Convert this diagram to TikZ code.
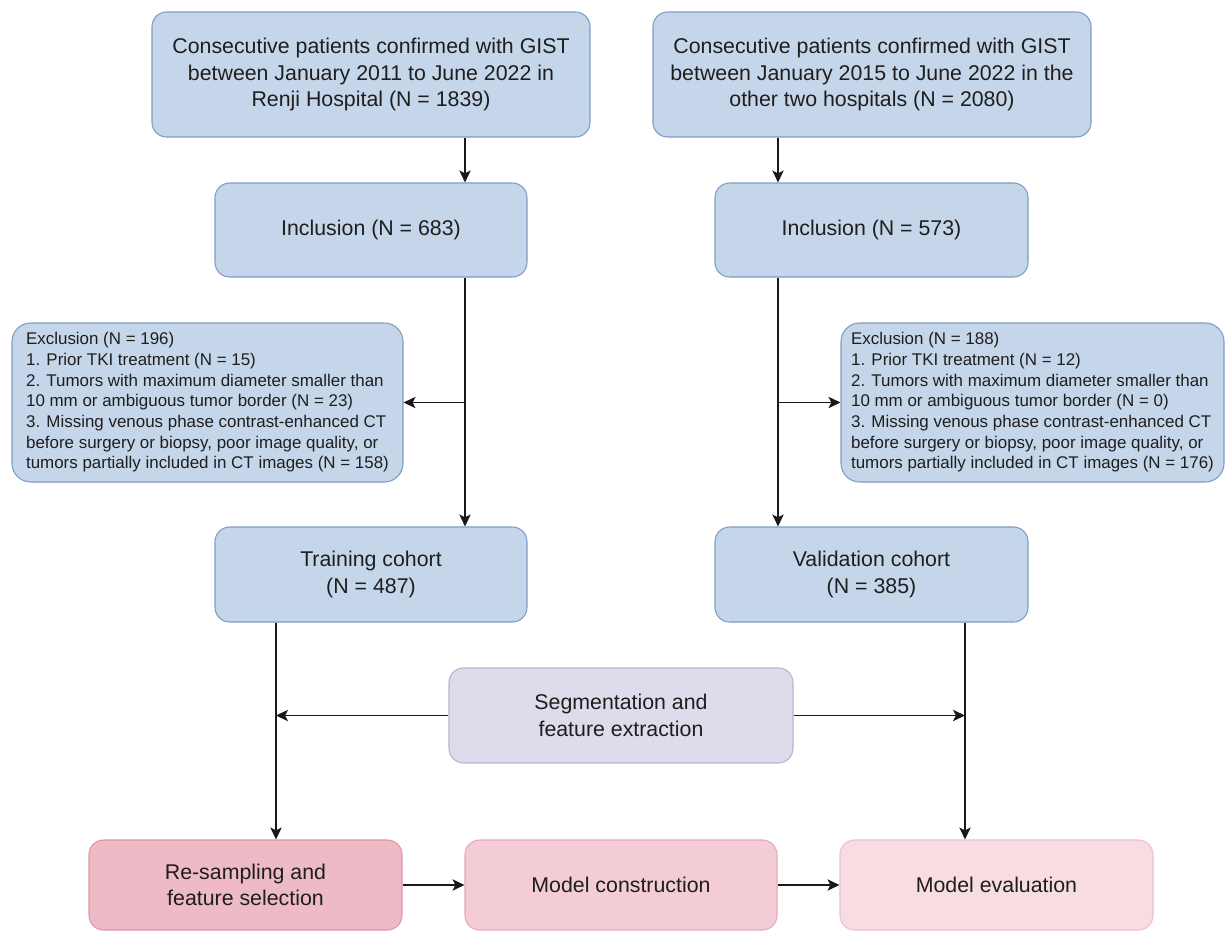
\documentclass[tikz,border=0pt]{standalone}
\usepackage{fontspec}
\setmainfont{Liberation Sans}
\usetikzlibrary{arrows.meta}
\definecolor{bluefill}{HTML}{C6D6EA}
\definecolor{blueline}{HTML}{7E9CC4}
\definecolor{segfill}{HTML}{DEDBEA}
\definecolor{segline}{HTML}{B8B4CF}
\definecolor{resfill}{HTML}{EDBAC6}
\definecolor{resline}{HTML}{DC98AA}
\definecolor{modfill}{HTML}{F3CCD5}
\definecolor{modline}{HTML}{E3AAB8}
\definecolor{evfill}{HTML}{F7DDE2}
\definecolor{evline}{HTML}{EBC0CA}
\definecolor{txt}{HTML}{1E1E1E}
\begin{document}
\begin{tikzpicture}[x=0.75pt,y=-0.75pt,
  box/.style={draw=blueline, fill=bluefill, line width=0.8pt, rounded corners=11pt,
    align=center, inner sep=0pt, text=txt, font=\fontsize{16}{20}\selectfont},
  exbox/.style={box, rounded corners=14pt, align=left, font=\fontsize{12.7}{15.5}\selectfont},
  arr/.style={draw=black!90, line width=1.1pt, -{Stealth[length=9pt,width=8.5pt,inset=2.2pt]}}
]
\useasboundingbox (0,0) rectangle (1225,932);

% top row
\node[box, minimum width=328.5pt, minimum height=93.75pt] (box1) at (371,74.5)
  {Consecutive patients confirmed with GIST\\between January 2011 to June 2022 in\\Renji Hospital (N = 1839)};
\node[box, minimum width=328.5pt, minimum height=93.75pt] (box2) at (872,74.5)
  {Consecutive patients confirmed with GIST\\between January 2015 to June 2022 in the\\other two hospitals (N = 2080)};

% inclusion
\node[box, minimum width=234pt, minimum height=70.5pt] (inc1) at (371,230) {Inclusion (N = 683)};
\node[box, minimum width=234.75pt, minimum height=70.5pt] (inc2) at (871.5,230) {Inclusion (N = 573)};

% exclusion
\node[exbox, minimum width=293.25pt, minimum height=119.25pt] (excl1) at (207.5,402.5)
  {Exclusion (N = 196)\\1. Prior TKI treatment (N = 15)\\2. Tumors with maximum diameter smaller than\\10 mm or ambiguous tumor border (N = 23)\\3. Missing venous phase contrast-enhanced CT\\before surgery or biopsy, poor image quality, or\\tumors partially included in CT images (N = 158)};
\node[exbox, minimum width=287.25pt, minimum height=119.25pt] (excl2) at (1032.5,402.5)
  {Exclusion (N = 188)\\1. Prior TKI treatment (N = 12)\\2. Tumors with maximum diameter smaller than\\10 mm or ambiguous tumor border (N = 0)\\3. Missing venous phase contrast-enhanced CT\\before surgery or biopsy, poor image quality, or\\tumors partially included in CT images (N = 176)};

% cohorts
\node[box, minimum width=234pt, minimum height=71.25pt] (train) at (371,574.5) {Training cohort\\(N = 487)};
\node[box, minimum width=234.75pt, minimum height=71.25pt] (valid) at (871.5,574.5) {Validation cohort\\(N = 385)};

% segmentation
\node[box, draw=segline, fill=segfill, minimum width=258pt, minimum height=71.25pt] (seg) at (621,715.5)
  {Segmentation and\\feature extraction};

% bottom row
\node[box, draw=resline, fill=resfill, minimum width=234.75pt, minimum height=67.5pt] (res) at (245.5,885)
  {Re-sampling and\\feature selection};
\node[box, draw=modline, fill=modfill, minimum width=234pt, minimum height=67.5pt] (mod) at (621,885)
  {Model construction};
\node[box, draw=evline, fill=evfill, minimum width=234.75pt, minimum height=67.5pt] (eval) at (996.5,885)
  {Model evaluation};

% guide coordinates for connector lanes
\coordinate (lx) at (465,0);
\coordinate (rx) at (778,0);
\coordinate (lx2) at (276,0);
\coordinate (rx2) at (965,0);

% connectors
\draw[arr] (box1.south -| lx) -- (inc1.north -| lx);
\draw[arr] (box2.south -| rx) -- (inc2.north -| rx);
\draw[arr] (inc1.south -| lx) -- (train.north -| lx);
\draw[arr] (inc2.south -| rx) -- (valid.north -| rx);
\draw[arr] (excl1.east -| lx) -- (excl1.east);
\draw[arr] (excl2.west -| rx) -- (excl2.west);
\draw[arr] (train.south -| lx2) -- (res.north -| lx2);
\draw[arr] (valid.south -| rx2) -- (eval.north -| rx2);
\draw[arr] (seg.west) -- (seg.west -| lx2);
\draw[arr] (seg.east) -- (seg.east -| rx2);
\draw[arr] (res.east) -- (mod.west);
\draw[arr] (mod.east) -- (eval.west);
\end{tikzpicture}
\end{document}
